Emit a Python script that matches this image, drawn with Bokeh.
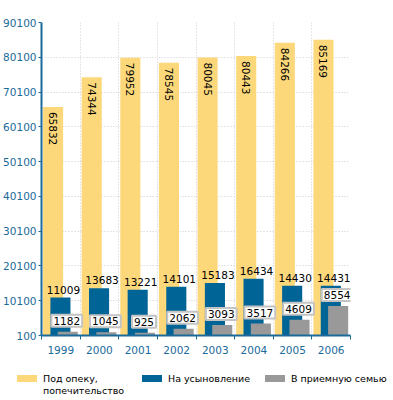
import math
from bokeh.plotting import figure
from bokeh.layouts import column
from bokeh.models import (ColumnDataSource, Range1d, FixedTicker, LabelSet,
                          NumeralTickFormatter, Div)
from bokeh.core.properties import value
from bokeh.transform import dodge
from bokeh.embed import file_html
from bokeh.resources import INLINE

years = ["1999", "2000", "2001", "2002", "2003", "2004", "2005", "2006"]
guardianship = [65832, 74344, 79952, 78545, 80045, 80443, 84266, 85169]
adoption = [11009, 13683, 13221, 14101, 15183, 16434, 14430, 14431]
foster = [1182, 1045, 925, 2062, 3093, 3517, 4609, 8554]
y_ticks = [100, 10100, 20100, 30100, 40100, 50100, 60100, 70100, 80100, 90100]
series_names = ["Под опеку,\nпопечительство", "На усыновление", "В приемную семью"]

FONT = "DejaVu Sans"
FS = "10.5px"
YELLOW = "#FCD87A"
BLUE = "#006496"
GREY = "#999999"
AXIS = "#1A6A9A"
series_colors = [YELLOW, BLUE, GREY]

n = len(years)
centers = [i + 0.5 for i in range(n)]
bounds = [float(i) for i in range(n + 1)]

src = ColumnDataSource(dict(
    xc=centers, g=guardianship, a=adoption, f=foster,
    gl=[str(v) for v in guardianship],
    al=[str(v) for v in adoption],
    fl=[str(v) for v in foster],
))

p = figure(width=385, height=360,
           x_range=Range1d(0, n), y_range=Range1d(y_ticks[0], y_ticks[-1]),
           output_backend="svg", toolbar_location=None,
           min_border_left=41, min_border_right=35, min_border_top=22, min_border_bottom=25)
p.outline_line_color = None

W = 0.52
p.vbar(x=dodge("xc", -0.2, range=p.x_range), top="g", bottom=y_ticks[0], width=W,
       fill_color=YELLOW, line_color=None, source=src)
p.vbar(x=dodge("xc", -0.01, range=p.x_range), top="a", bottom=y_ticks[0], width=W,
       fill_color=BLUE, line_color=None, source=src)
p.vbar(x=dodge("xc", 0.18, range=p.x_range), top="f", bottom=y_ticks[0], width=W,
       fill_color=GREY, line_color=None, source=src)

p.add_layout(LabelSet(x=dodge("xc", -0.2, range=p.x_range), y="g", text="gl", source=src,
                      angle=-math.pi / 2, text_align="left", text_baseline="middle",
                      y_offset=-5, text_font=value(FONT), text_font_size=FS, text_color="black"))
p.add_layout(LabelSet(x=dodge("xc", -0.01, range=p.x_range), y="a", text="al", source=src,
                      text_align="center", text_baseline="alphabetic", x_offset=3, y_offset=4,
                      text_font=value(FONT), text_font_size=FS, text_color="black"))
p.text(x=dodge("xc", 0.18, range=p.x_range), y="f", text="fl", source=src,
       text_align="center", text_baseline="bottom", x_offset=-1, y_offset=-5,
       padding=2, background_fill_color="white",
       border_line_color="#c4c4c4", border_line_width=2,
       text_font=value(FONT), text_font_size=FS, text_color="black")

# axes
p.yaxis.ticker = FixedTicker(ticks=y_ticks)
p.yaxis.formatter = NumeralTickFormatter(format="0")
p.xaxis.ticker = FixedTicker(ticks=centers, minor_ticks=bounds)
p.xaxis.major_label_overrides = {c: y for c, y in zip(centers, years)}
for ax in (p.xaxis[0], p.yaxis[0]):
    ax.axis_line_color = AXIS
    ax.axis_line_width = 2
    ax.major_tick_line_color = AXIS
    ax.minor_tick_line_color = AXIS
    ax.major_label_text_color = AXIS
    ax.major_label_text_font = FONT
    ax.major_label_text_font_size = FS
p.yaxis.major_tick_out = 3
p.yaxis.major_tick_in = 0
p.yaxis.minor_tick_out = 0
p.yaxis.minor_tick_in = 0
p.yaxis.major_label_standoff = 2
p.xaxis.major_tick_out = 0
p.xaxis.major_tick_in = 0
p.xaxis.minor_tick_out = 4
p.xaxis.minor_tick_in = 0
p.xaxis.major_label_standoff = 6

p.ygrid.ticker = FixedTicker(ticks=y_ticks)
p.xgrid.ticker = FixedTicker(ticks=bounds)
for g in (p.xgrid[0], p.ygrid[0]):
    g.grid_line_color = "#cccccc"
    g.grid_line_dash = "1 2"
    g.grid_line_width = 1

# legend (HTML, positioned in pixels)
legend_x = [12, 137, 260]
parts = []
for lx, name, col in zip(legend_x, series_names, series_colors):
    parts.append(f'<span style="position:absolute;left:{lx}px;top:10px;width:20px;height:7px;'
                 f'background:{col};"></span>')
    parts.append(f'<span style="position:absolute;left:{lx + 26}px;top:8px;line-height:12px;'
                 f'white-space:nowrap;">{name.replace(chr(10), "<br>")}</span>')
legend_html = ('<div style="position:relative;width:393px;height:36px;overflow:visible;'
               f'font-family:\'{FONT}\';font-size:9.5px;color:black;">' + "".join(parts) + '</div>')
lg = Div(text=legend_html, width=393, height=36)

layout = column(p, lg, spacing=0)
open("out.html", "w").write(file_html(layout, INLINE))
